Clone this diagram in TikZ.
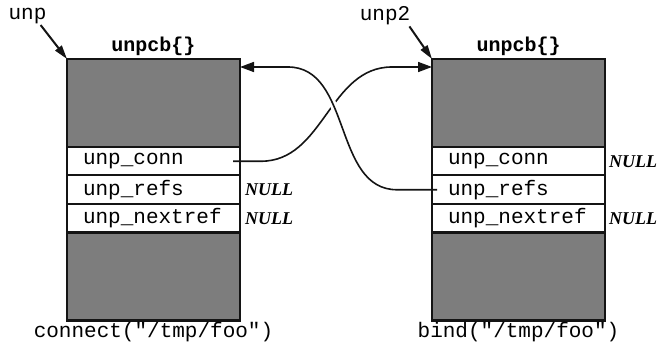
\documentclass[tikz,border=0pt]{standalone}
\usepackage{fontspec}
\setmonofont{Liberation Mono}
\newfontfamily\nilfont{Liberation Serif}
\usetikzlibrary{
  arrows.meta,
  positioning
}
\definecolor{cbfill}{RGB}{125,125,125}
\definecolor{cbline}{RGB}{20,20,20}
\tikzset{
  % Struktura qismlari
  cbpart/.style   = {draw=cbline, line width=2.2pt, fill=cbfill,
                     minimum width=173pt, inner sep=0pt, outer sep=0pt},
  cbfield/.style  = {draw=cbline, line width=2pt, fill=white,
                     minimum width=173pt, minimum height=28.5pt,
                     text width=141pt, inner xsep=16pt, inner ysep=0pt,
                     outer sep=0pt, align=left, font=\ttfamily\fontsize{21}{24}\selectfont},
  % Yozuvlar
  cbtitle/.style  = {font=\ttfamily\bfseries\fontsize{20}{24}\selectfont, inner sep=1pt},
  calltxt/.style  = {font=\ttfamily\fontsize{21}{24}\selectfont, inner sep=1pt},
  ptrlab/.style   = {font=\ttfamily\fontsize{21}{24}\selectfont, inner sep=1pt},
  nil/.style      = {font=\nilfont\bfseries\itshape\fontsize{18}{20}\selectfont, inner sep=1pt},
  % Ko'rsatkichlar
  ptr/.style      = {-{Triangle[length=14pt,width=8pt]}, line width=2pt, cbline},
  link/.style     = {-{Triangle[length=14pt,width=10pt]}, line width=1.6pt, cbline},
  over/.style     = {preaction={draw=white, line width=7pt, shorten <=14pt, shorten >=20pt, -}},
}
\begin{document}
\begin{tikzpicture}[x=1pt,y=-1pt]
  \useasboundingbox (0,0) rectangle (663,344);
  % Ikki unpcb tuzilmasi
  \foreach \s/\cx in {l/153.5,r/518.5}{
    \node[cbpart, minimum height=88pt, anchor=north] (\s top) at (\cx,59) {};
    \node[cbfield, below=0pt of \s top] (\s conn) {unp\_conn};
    \node[cbfield, below=0pt of \s conn] (\s refs) {unp\_refs};
    \node[cbfield, below=0pt of \s refs] (\s next) {unp\_nextref};
    \node[cbpart, minimum height=88pt, below=0pt of \s next] (\s bot) {};
    \node[cbtitle, above=2pt of \s top] (\s title) {unpcb\{\}};
  }
  % NULL qiymatlar
  \node[nil, right=4pt of lrefs] (lrefsnil) {NULL};
  \node[nil, right=4pt of lnext] (lnextnil) {NULL};
  \node[nil, right=3pt of rconn] (rconnnil) {NULL};
  \node[nil, right=3pt of rnext] (rnextnil) {NULL};
  % Chaqiriqlar
  \node[calltxt, below=1pt of lbot] (lcall) {connect("/tmp/foo")};
  \node[calltxt, below=1pt of rbot] (rcall) {bind("/tmp/foo")};
  % unp va unp2 ko'rsatkichlari
  \node[ptrlab] (unp) at (27.5,16) {unp};
  \node[ptrlab] (unptwo) at (385,16) {unp2};
  \draw[ptr] ([xshift=-7pt]unp.south east) -- (ltop.north west);
  \draw[ptr] ([xshift=-2pt]unptwo.south east) -- (rtop.north west);
  % Kesishgan bog'lanishlar
  \draw[link] ([xshift=-7pt]lconn.east) -- ++(28,0)
    to[out=0,in=180] ([xshift=-40pt,yshift=-8pt]rtop.north west)
    -- ([yshift=-8pt]rtop.north west);
  \draw[link, over] ([xshift=5pt]rrefs.west) -- ++(-40,0)
    to[out=180,in=0] ([xshift=48pt,yshift=-8pt]ltop.north east)
    -- ([yshift=-8pt]ltop.north east);
\end{tikzpicture}
\end{document}
